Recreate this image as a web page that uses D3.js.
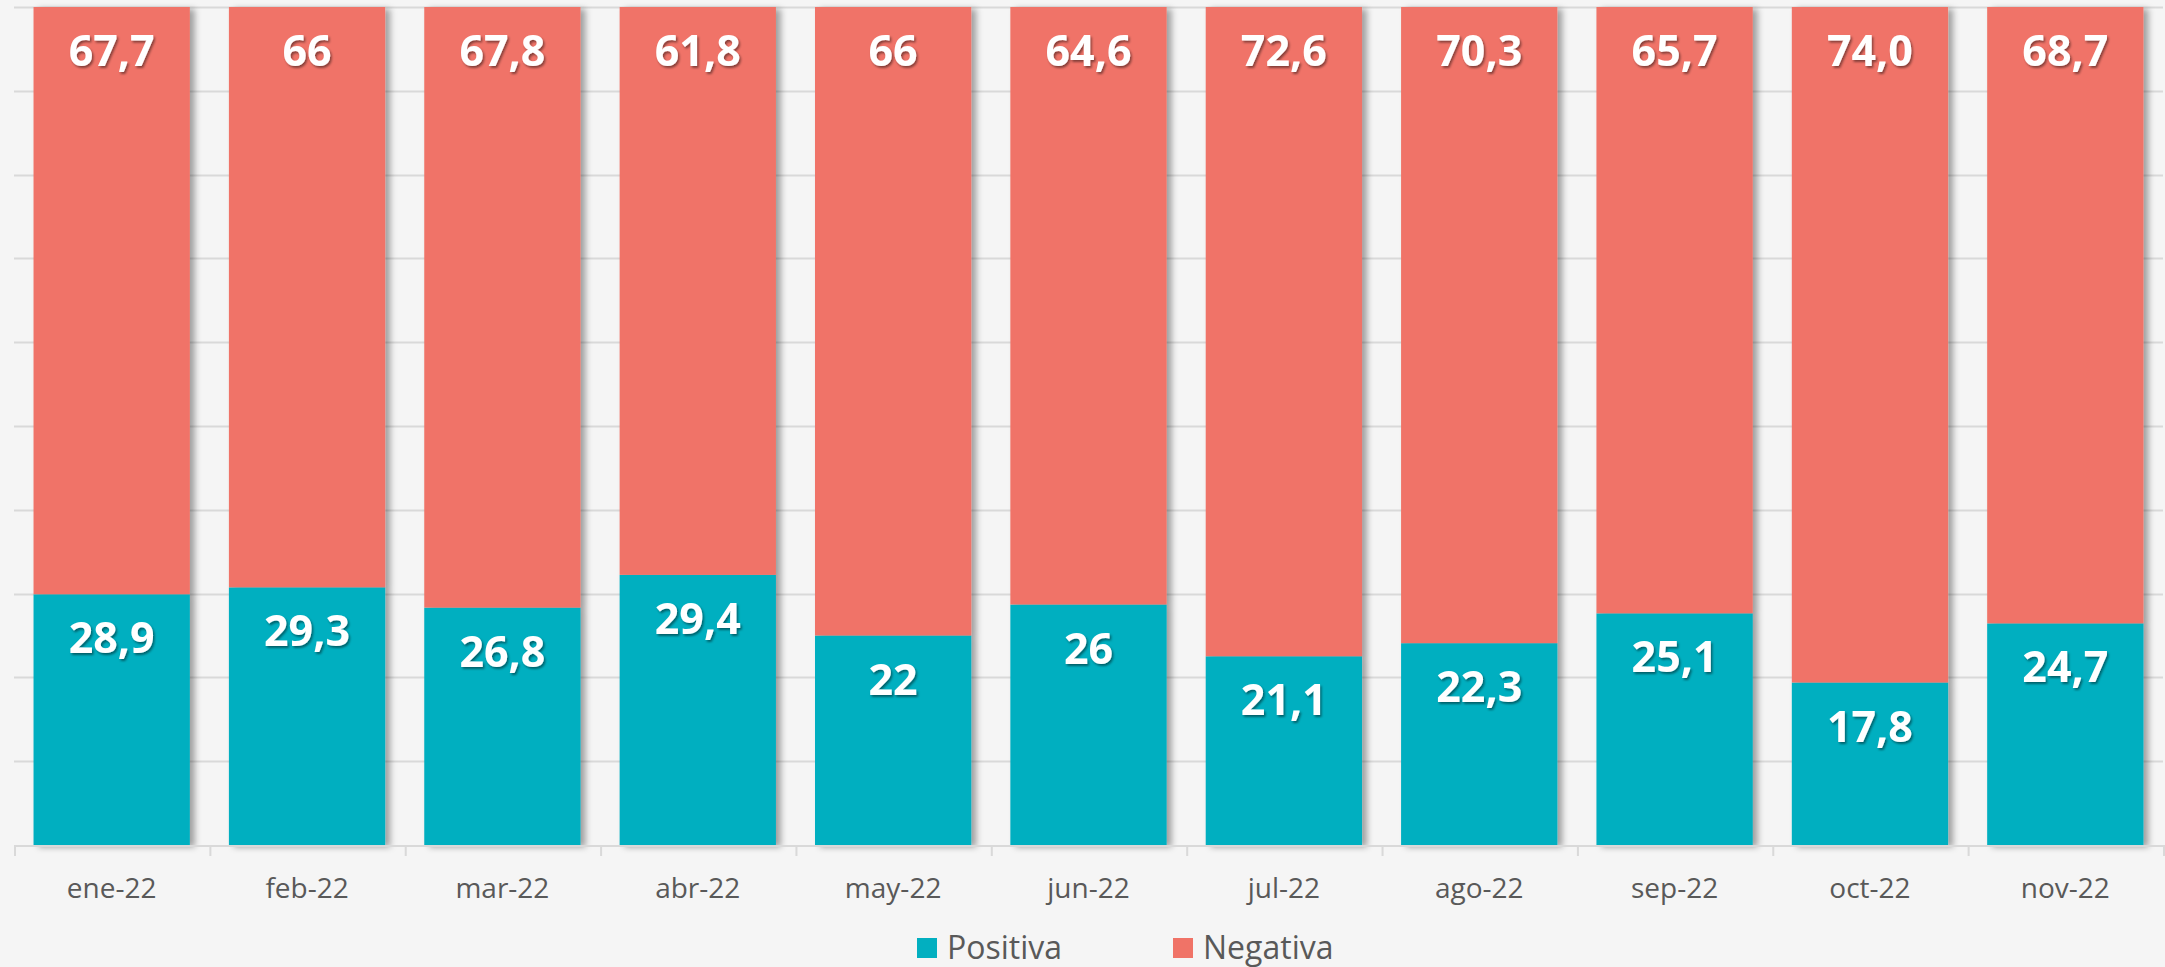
<!DOCTYPE html>
<html>
<head>
<meta charset="utf-8">
<script src="https://cdn.jsdelivr.net/npm/d3@7"></script>
<style>
  html, body { margin: 0; padding: 0; background: #f5f5f5; }
  svg { display: block; font-family: "Open Sans", "Noto Sans", sans-serif; }
</style>
</head>
<body>
<svg id="chart" width="2165" height="967"></svg>
<script>
const months = ["ene-22", "feb-22", "mar-22", "abr-22", "may-22", "jun-22", "jul-22", "ago-22", "sep-22", "oct-22", "nov-22"];
const positiva = [28.9, 29.3, 26.8, 29.4, 22, 26, 21.1, 22.3, 25.1, 17.8, 24.7];
const negativa = [67.7, 66, 67.8, 61.8, 66, 64.6, 72.6, 70.3, 65.7, 74.0, 68.7];
const positivaLabels = ["28,9", "29,3", "26,8", "29,4", "22", "26", "21,1", "22,3", "25,1", "17,8", "24,7"];
const negativaLabels = ["67,7", "66", "67,8", "61,8", "66", "64,6", "72,6", "70,3", "65,7", "74,0", "68,7"];
const seriesNames = ["Positiva", "Negativa"];
const colors = {Positiva: "#02afc0", Negativa: "#f07367"};

const svg = d3.select("#chart");
const margin = {left: 14, right: 2, top: 7, bottom: 122};
const width = 2165 - margin.left - margin.right;
const height = 967 - margin.top - margin.bottom;

// shadows
const defs = svg.append("defs");
defs.append("filter").attr("id", "barShadow")
    .attr("x", "-10%").attr("y", "-5%").attr("width", "130%").attr("height", "110%")
  .append("feDropShadow")
    .attr("dx", 5).attr("dy", 2).attr("stdDeviation", 3)
    .attr("flood-color", "#000").attr("flood-opacity", 0.35);
defs.append("filter").attr("id", "textShadow")
    .attr("x", "-20%").attr("y", "-20%").attr("width", "140%").attr("height", "140%")
  .append("feDropShadow")
    .attr("dx", 1.5).attr("dy", 2).attr("stdDeviation", 1.2)
    .attr("flood-color", "#000").attr("flood-opacity", 0.45);

const rows = months.map((m, i) => ({month: m, Positiva: positiva[i], Negativa: negativa[i], i: i}));
const stacked = d3.stack().keys(seriesNames).offset(d3.stackOffsetExpand)(rows);

const x = d3.scaleBand().domain(months).range([0, width]).paddingInner(0.2).paddingOuter(0.1);
const y = d3.scaleLinear().domain([0, 1]).range([height, 0]);

const g = svg.append("g").attr("transform", `translate(${margin.left}, ${margin.top})`);

// gridlines
g.append("g").attr("class", "grid")
  .selectAll("line")
  .data(d3.range(0.1, 1.01, 0.1))
  .enter().append("line")
    .attr("x1", 0).attr("x2", width)
    .attr("y1", d => Math.round(y(d)) + 0.5).attr("y2", d => Math.round(y(d)) + 0.5)
    .attr("stroke", "#d9d9d9").attr("stroke-width", 2);

// bars
const barLayer = g.append("g").attr("filter", "url(#barShadow)");
barLayer.selectAll(".series")
  .data(stacked)
  .enter().append("g")
    .attr("class", "series")
    .attr("fill", d => colors[d.key])
  .selectAll("rect")
  .data(d => d)
  .enter().append("rect")
    .attr("x", d => x(d.data.month))
    .attr("y", d => y(d[1]))
    .attr("width", x.bandwidth())
    .attr("height", d => y(d[0]) - y(d[1]));

// x axis with boundary ticks
const axisG = g.append("g").attr("transform", `translate(0, ${height})`);
axisG.append("line").attr("x1", 0).attr("x2", width).attr("y1", 1).attr("y2", 1)
    .attr("stroke", "#d9d9d9").attr("stroke-width", 2);
axisG.selectAll(".tick-mark")
  .data(d3.range(months.length + 1))
  .enter().append("line")
    .attr("class", "tick-mark")
    .attr("x1", i => i * x.step() + 1).attr("x2", i => i * x.step() + 1)
    .attr("y1", 0).attr("y2", 11)
    .attr("stroke", "#d9d9d9").attr("stroke-width", 2);
axisG.selectAll(".month-label")
  .data(months)
  .enter().append("text")
    .attr("class", "month-label")
    .attr("x", d => x(d) + x.bandwidth() / 2)
    .attr("y", 43)
    .attr("dy", "0.35em")
    .attr("text-anchor", "middle")
    .attr("fill", "#595959")
    .style("font-size", "28px")
    .text(d => d);

// data labels
const labelLayer = g.append("g").attr("filter", "url(#textShadow)");
stacked.forEach(s => {
  const labels = s.key === "Positiva" ? positivaLabels : negativaLabels;
  labelLayer.selectAll(".lbl-" + s.key)
    .data(s)
    .enter().append("text")
      .attr("x", d => x(d.data.month) + x.bandwidth() / 2)
      .attr("y", d => y(d[1]) + 44)
      .attr("dy", "0.35em")
      .attr("text-anchor", "middle")
      .attr("fill", "#ffffff")
      .style("font-size", "43px")
      .style("font-weight", "bold")
      .text(d => labels[d.data.i]);
});

// legend
const legend = svg.append("g").attr("transform", "translate(917, 948)");
const legendItems = [{name: "Positiva", x: 0}, {name: "Negativa", x: 256}];
legendItems.forEach(item => {
  const li = legend.append("g").attr("transform", `translate(${item.x}, 0)`);
  li.append("rect").attr("x", 0).attr("y", -10).attr("width", 20).attr("height", 20)
    .attr("fill", colors[item.name]);
  li.append("text").attr("x", 30).attr("y", 0).attr("dy", "0.35em")
    .attr("fill", "#595959").style("font-size", "32px").text(item.name);
});
</script>
</body>
</html>
